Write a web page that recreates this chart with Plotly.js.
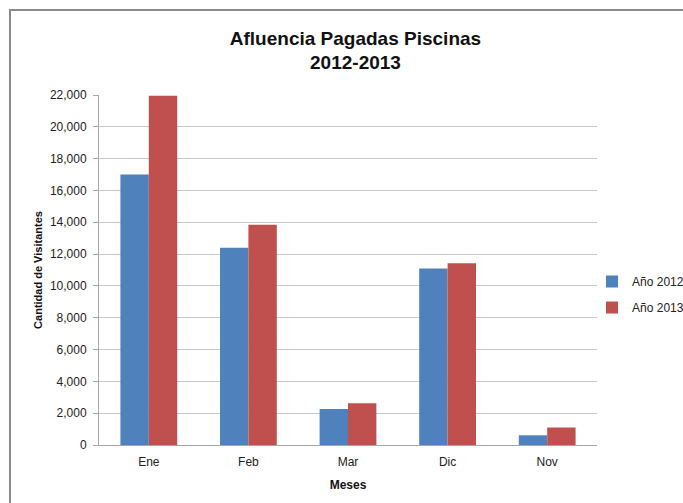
<!DOCTYPE html>
<html>
<head>
<meta charset="utf-8">
<script src="https://cdn.plot.ly/plotly-3.0.1.min.js"></script>
<style>
  html, body { margin: 0; padding: 0; background: #ffffff; }
  #wrap { position: relative; width: 683px; height: 503px; overflow: hidden; }
  #chart { position: absolute; left: 0; top: 0; width: 683px; height: 503px; }
  #frame { position: absolute; left: 9px; top: 9px; width: 700px; height: 520px;
           border-left: 2px solid #8a8a8a; border-top: 2px solid #8a8a8a; pointer-events: none; }
</style>
</head>
<body>
<div id="wrap">
  <div id="chart"></div>
  <div id="frame"></div>
</div>
<script>
const months = ["Ene", "Feb", "Mar", "Dic", "Nov"];
const visitors2012 = [17000, 12400, 2270, 11100, 610];
const visitors2013 = [21950, 13850, 2620, 11420, 1100];
const seriesNames = ["Año 2012", "Año 2013"];
const yTicks = [0, 2000, 4000, 6000, 8000, 10000, 12000, 14000, 16000, 18000, 20000, 22000];

const FONT = "'Liberation Sans', Arial, sans-serif";

const traces = [
  { type: "bar", name: seriesNames[0], x: months, y: visitors2012, legendgroup: "g2012",
    marker: { color: "#4F81BD" }, hoverinfo: "x+y+name" },
  { type: "bar", name: seriesNames[1], x: months, y: visitors2013, legendgroup: "g2013",
    marker: { color: "#C0504D" }, hoverinfo: "x+y+name" }
];

const layout = {
  width: 683, height: 503,
  margin: { l: 99, r: 86, t: 95, b: 58, pad: 0, autoexpand: false },
  paper_bgcolor: "#ffffff", plot_bgcolor: "#ffffff",
  font: { family: FONT, size: 12, color: "#222222" },
  title: {
    text: "<b>Afluencia Pagadas Piscinas<br>2012-2013</b>",
    font: { family: FONT, size: 19, color: "#111111" },
    x: 0.515, xref: "paper", xanchor: "center",
    y: 0.911, yref: "container", yanchor: "middle"
  },
  barmode: "group", bargap: 0.43, bargroupgap: 0,
  xaxis: {
    showgrid: false, showline: true, linecolor: "#a6a6a6", linewidth: 1,
    ticks: "", ticklabelstandoff: 6,
    tickfont: { family: FONT, size: 12, color: "#222222" },
    title: { text: "<b>Meses</b>", font: { family: FONT, size: 12, color: "#111111" }, standoff: 12 }
  },
  yaxis: {
    range: [0, 22000], tickvals: yTicks, tickformat: ",d",
    showgrid: true, gridcolor: "#c8c8c8", gridwidth: 1,
    showline: true, linecolor: "#a6a6a6", linewidth: 1,
    ticks: "outside", ticklen: 5, tickcolor: "#a6a6a6", ticklabelstandoff: 4,
    tickfont: { family: FONT, size: 12, color: "#222222" },
    zeroline: false,
    title: { text: "<b>Cantidad de Visitantes</b>", font: { family: FONT, size: 11, color: "#111111" }, standoff: 5 }
  },
  legend: {
    x: 0.99, xanchor: "left", y: 0.43, yanchor: "middle",
    font: { family: FONT, size: 12, color: "#222222" },
    bgcolor: "rgba(0,0,0,0)", itemwidth: 30, tracegroupgap: 7
  },
  showlegend: true
};

Plotly.newPlot("chart", traces, layout, { displayModeBar: false, staticPlot: true });
</script>
</body>
</html>
